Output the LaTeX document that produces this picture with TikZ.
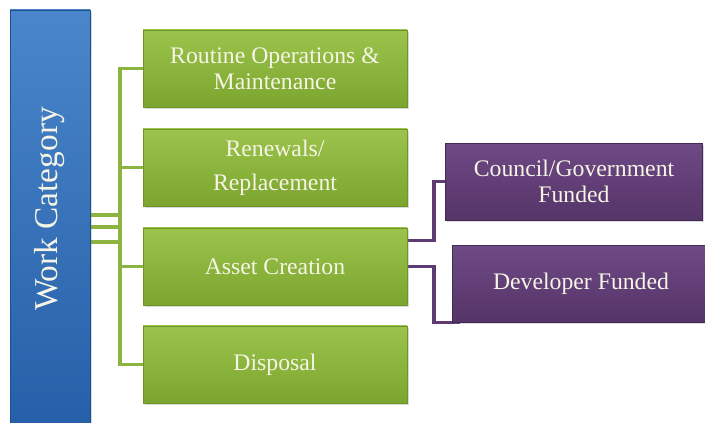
\documentclass[tikz,border=0pt]{standalone}
\usepackage{fontspec}
\setmainfont{Liberation Serif}
\usetikzlibrary{shadows,calc,backgrounds}
\definecolor{bluelight}{HTML}{4A86CC}
\definecolor{bluedark}{HTML}{2660A8}
\definecolor{blueedge}{HTML}{1F4F8C}
\definecolor{greenlight}{HTML}{9CC44C}
\definecolor{greendark}{HTML}{7BA52E}
\definecolor{greenedge}{HTML}{6E9528}
\definecolor{greenline}{HTML}{8DB340}
\definecolor{purplelight}{HTML}{6E4A85}
\definecolor{purpledark}{HTML}{553468}
\definecolor{purpleedge}{HTML}{452A55}
\definecolor{purpleline}{HTML}{5E3B73}
\definecolor{textcream}{HTML}{F6F4E6}
\begin{document}
\begin{tikzpicture}[x=0.75pt,y=-0.75pt,
  box/.style={rectangle, inner sep=0pt, align=center, text=textcream,
    font=\fontsize{17.8}{19.5}\selectfont,
    drop shadow={shadow xshift=1.2pt, shadow yshift=-1.5pt, opacity=0.3}},
  greenbox/.style={box, top color=greenlight, bottom color=greendark, draw=greenedge,
    minimum width=198pt, minimum height=58pt},
  purplebox/.style={box, top color=purplelight, bottom color=purpledark, draw=purpleedge,
    minimum width=193pt, minimum height=57.5pt},
  bluebar/.style={box, top color=bluelight, bottom color=bluedark, draw=blueedge,
    minimum width=60pt, minimum height=310pt},
  gline/.style={draw=greenline, line width=2.3pt},
  pline/.style={draw=purpleline, line width=2.3pt}]
\useasboundingbox (0,0) rectangle (705,423);
% nodes
\node[bluebar] (bar) at (50,216.5) {};
\node[text=textcream, font=\fontsize{25}{28}\selectfont, rotate=90] (barlabel) at (50,209) {Work Category};
\node[greenbox] (g1) at (275,68.5) {Routine Operations \&\\Maintenance};
\node[greenbox] (g2) at (275,167.5) {Renewals/\\[6pt]Replacement};
\node[greenbox] (g3) at (275,266.5) {Asset Creation};
\node[greenbox] (g4) at (275,364.5) {Disposal};
\node[purplebox] (p1) at (574,181.5) {Council/Government\\Funded};
\node[purplebox] (p2) at (581,283.5) {Developer Funded};
% connectors
\coordinate (t) at (120,0);
\coordinate (e) at (434,0);
\begin{scope}[on background layer]
\draw[gline] (g1.west) -- (g1.west -| t) -- (g4.west -| t) -- (g4.west);
\draw[gline] (g2.west) -- (g2.west -| t);
\draw[gline] (g3.west) -- (g3.west -| t);
\draw[gline] ($(bar.east)+(0,-1.5)$) -- ($(bar.east -| t)+(0,-1.5)$);
\draw[gline] ($(bar.east)+(0,10.5)$) -- ($(bar.east -| t)+(0,10.5)$);
\draw[gline] ($(bar.east)+(0,25.5)$) -- ($(bar.east -| t)+(0,25.5)$);
\draw[pline] ($(g3.east)+(0,-26)$) -- ($(g3.east -| e)+(0,-26)$) |- (p1.west);
\draw[pline] (g3.east) -- (g3.east -| e) |- ($(p2.south west)+(8,0)$);
\end{scope}
\end{tikzpicture}
\end{document}
